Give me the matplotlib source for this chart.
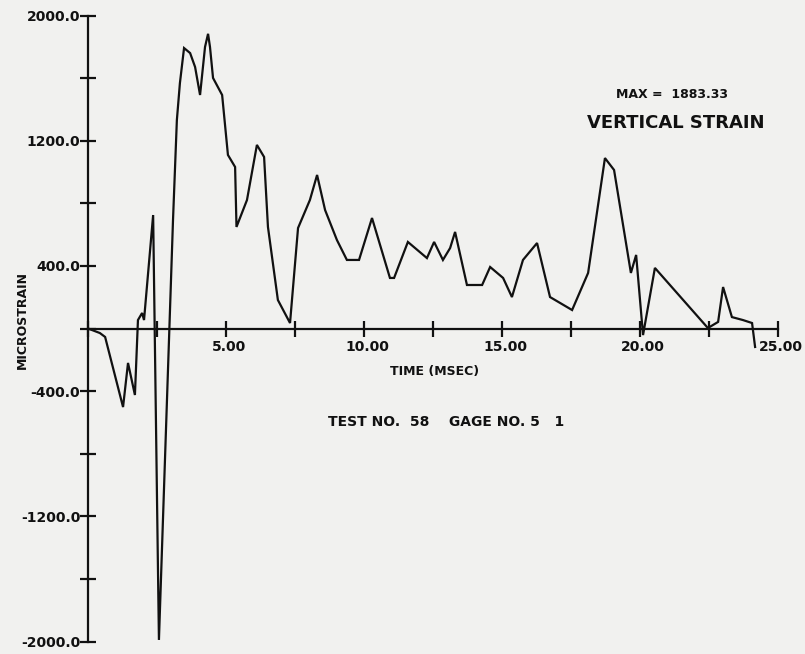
import matplotlib
matplotlib.use('Agg')
import matplotlib.pyplot as plt
import matplotlib.transforms as mtrans

# ---- data ----
time_ms = [0.00, 0.43, 0.62, 1.27, 1.45, 1.70, 1.81, 1.96, 2.03, 2.36, 2.57,
           3.08, 3.22, 3.33, 3.48, 3.70, 3.88, 4.06, 4.24, 4.35, 4.42, 4.53,
           4.86, 5.07, 5.33, 5.38, 5.76, 6.12, 6.38, 6.52, 6.88, 7.32, 7.61,
           8.04, 8.30, 8.59, 9.02, 9.38, 9.82, 10.29, 10.94, 11.09, 11.59,
           12.28, 12.54, 12.86, 13.12, 13.30, 13.73, 14.28, 14.57, 15.04,
           15.36, 15.76, 16.27, 16.74, 17.54, 18.12, 18.73, 19.06, 19.67,
           19.86, 20.11, 20.54, 22.46, 22.83, 23.01, 23.33, 23.73, 24.06, 24.17]
strain = [0, -29, -54, -502, -220, -425, 54, 99, 54, 725, -1990,
          693, 1332, 1568, 1792, 1760, 1671, 1492, 1799, 1883, 1799, 1601,
          1492, 1109, 1032, 649, 821, 1173, 1096, 649, 182, 35, 642,
          821, 981, 757, 565, 438, 438, 706, 323, 323, 553,
          450, 553, 438, 514, 617, 278, 278, 393, 323,
          201, 438, 546, 201, 118, 355, 1089, 1013, 355,
          470, -42, 387, 3, 42, 265, 73, 54, 35, -118]

x_ticks = [0, 2.5, 5, 7.5, 10, 12.5, 15, 17.5, 20, 22.5, 25]
x_tick_labels = ['', '', '5.00', '', '10.00', '', '15.00', '', '20.00', '', '25.00']
y_ticks = [-2000, -1600, -1200, -800, -400, 0, 400, 800, 1200, 1600, 2000]
y_tick_labels = ['-2000.0', '', '-1200.0', '', '-400.0', '', '400.0', '', '1200.0', '', '2000.0']

# ---- layout constants (pixels) ----
W, H = 805, 654
X0_PX, PX_PER_MS = 88, 27.6
Y0_PX, PX_PER_UNIT = 328.5, 0.1565

bg = '#f1f1ef'
ink = '#111111'

fig = plt.figure(figsize=(W / 100, H / 100), dpi=100, facecolor=bg)
ax = fig.add_axes([0, 0, 1, 1], facecolor=bg)
ax.set_xlim(-X0_PX / PX_PER_MS, (W - X0_PX) / PX_PER_MS)
ax.set_ylim((Y0_PX - H) / PX_PER_UNIT, Y0_PX / PX_PER_UNIT)

ax.plot(time_ms, strain, color=ink, lw=1.6, solid_joinstyle='miter')

for s in ('top', 'right'):
    ax.spines[s].set_visible(False)
ax.spines['left'].set_position(('data', 0))
ax.spines['bottom'].set_position(('data', 0))
ax.spines['left'].set_bounds(-2000, 2000)
ax.spines['bottom'].set_bounds(0, 25)
for s in ('left', 'bottom'):
    ax.spines[s].set_linewidth(1.6)
    ax.spines[s].set_color(ink)

ax.set_xticks(x_ticks)
ax.set_xticklabels(x_tick_labels, fontweight='bold', fontsize=10, color=ink)
ax.set_yticks(y_ticks)
ax.set_yticklabels(y_tick_labels, fontweight='bold', fontsize=10, color=ink)
ax.tick_params(axis='both', direction='inout', length=11, width=1.6, color=ink)
ax.tick_params(axis='x', pad=3)
ax.tick_params(axis='y', pad=0)

offset = mtrans.ScaledTranslation(3 / 100, 0, fig.dpi_scale_trans)
for lab in ax.get_xticklabels():
    lab.set_transform(lab.get_transform() + offset)


def ftext(x, y, s, **kw):
    fig.text(x / W, 1 - y / H, s, color=ink, fontweight='bold', **kw)


ftext(672, 95, 'MAX =  1883.33', fontsize=9, ha='center', va='center')
ftext(676, 123, 'VERTICAL STRAIN', fontsize=13, ha='center', va='center')
ftext(435, 372, 'TIME (MSEC)', fontsize=9, ha='center', va='center')
ftext(446, 422, 'TEST NO.  58    GAGE NO. 5   1', fontsize=10, ha='center', va='center')
ftext(22, 320, 'MICROSTRAIN', fontsize=9, ha='center', va='center', rotation=90)

fig.savefig('out.png', dpi=100, facecolor=bg)
